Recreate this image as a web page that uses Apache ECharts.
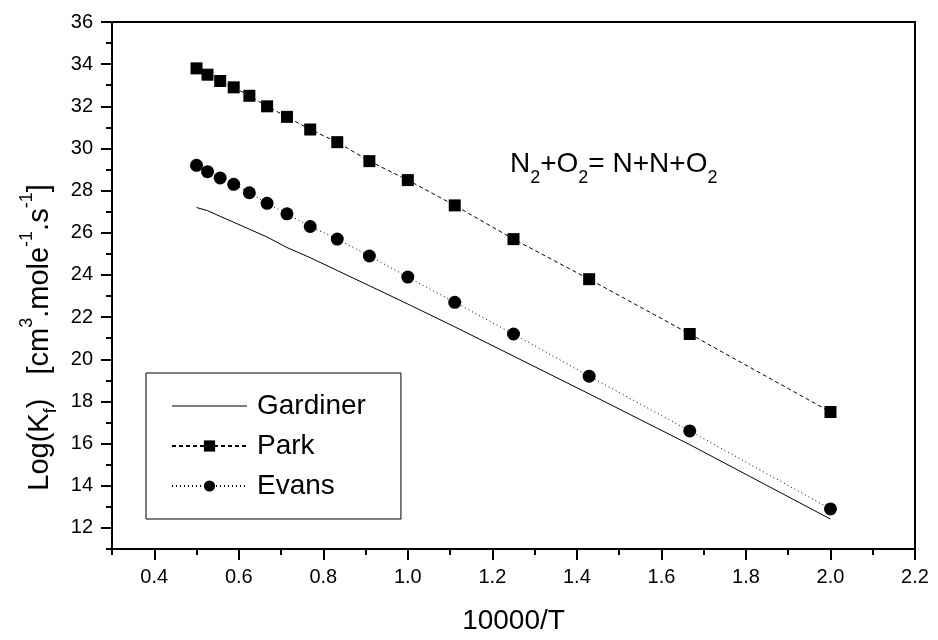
<!DOCTYPE html>
<html><head><meta charset="utf-8">
<script src="https://cdn.jsdelivr.net/npm/echarts@6/dist/echarts.min.js"></script>
<style>html,body{margin:0;padding:0;background:#fff}#c{width:938px;height:640px}</style>
</head><body><div id="c"></div>
<script>
// 10000/T values
const xValues = [0.5, 0.526, 0.556, 0.588, 0.625, 0.667, 0.714, 0.769, 0.833, 0.909, 1.0, 1.111, 1.25, 1.429, 1.667, 2.0];
const gardiner = [27.2, 27.05, 26.78, 26.5, 26.17, 25.8, 25.3, 24.82, 24.21, 23.49, 22.62, 21.54, 20.15, 18.36, 15.95, 12.42];
const park = [33.8, 33.5, 33.2, 32.9, 32.5, 32.0, 31.5, 30.9, 30.3, 29.4, 28.5, 27.3, 25.7, 23.8, 21.2, 17.5];
const evans = [29.2, 28.9, 28.6, 28.3, 27.9, 27.4, 26.9, 26.3, 25.7, 24.9, 23.9, 22.7, 21.2, 19.2, 16.6, 12.9];
// tick positions (labels shown on every other one)
const xTicks = ['0.3','0.4','0.5','0.6','0.7','0.8','0.9','1.0','1.1','1.2','1.3','1.4','1.5','1.6','1.7','1.8','1.9','2.0','2.1','2.2'];
const yTicks = ['11','12','13','14','15','16','17','18','19','20','21','22','23','24','25','26','27','28','29','30','31','32','33','34','35','36'];
const seriesNames = ['Gardiner', 'Park', 'Evans'];

const FONT = 'Liberation Sans, Arial, sans-serif';
const black = '#000';
const major = (i) => i % 2 === 1;

const chart = echarts.init(document.getElementById('c'), null, {renderer: 'canvas'});
const pairs = (ys) => xValues.map((x, i) => [x, ys[i]]);

chart.setOption({
  animation: false,
  backgroundColor: '#fff',
  textStyle: {fontFamily: FONT, color: black},
  grid: {left: 112, right: 23, top: 22, bottom: 87, show: true, borderColor: black, borderWidth: 2, backgroundColor: 'transparent'},
  xAxis: [
    {type: 'value', min: 0.3, max: 2.2, interval: 0.1, position: 'bottom',
     axisLine: {show: true, onZero: false, lineStyle: {color: black, width: 2}},
     axisTick: {show: true, length: 6, lineStyle: {color: black, width: 2}},
     axisLabel: {show: false}, splitLine: {show: false}},
    {type: 'category', data: xTicks, boundaryGap: false, position: 'bottom',
     axisLine: {show: false},
     axisTick: {show: true, interval: major, length: 11, lineStyle: {color: black, width: 2}},
     axisLabel: {interval: major, margin: 18, fontSize: 20, color: black, fontFamily: FONT},
     splitLine: {show: false},
     name: '10000/T', nameLocation: 'middle', nameGap: 58,
     nameTextStyle: {fontSize: 28, color: black, fontFamily: FONT}}
  ],
  yAxis: [
    {type: 'value', min: 11, max: 36, interval: 1, position: 'left',
     axisLine: {show: true, onZero: false, lineStyle: {color: black, width: 2}},
     axisTick: {show: true, length: 6, lineStyle: {color: black, width: 2}},
     axisLabel: {show: false}, splitLine: {show: false}},
    {type: 'category', data: yTicks, boundaryGap: false, position: 'left',
     axisLine: {show: false},
     axisTick: {show: true, interval: major, length: 11, lineStyle: {color: black, width: 2}},
     axisLabel: {interval: major, margin: 19, fontSize: 20, color: black, fontFamily: FONT},
     splitLine: {show: false},
     name: '{t|Log(K}{sub|f}{t|)   [cm}{sup|3}{t|.mole}{sup|-1}{t|.s}{sup|-1}{t|]}',
     nameLocation: 'middle', nameGap: 60, nameRotate: 90,
     nameTextStyle: {
       fontSize: 29, color: black, fontFamily: FONT, padding: [0, 104, 0, 0],
       rich: {
         t: {fontSize: 29, lineHeight: 31, padding: [8, 0, 0, 0], verticalAlign: 'top', color: black, fontFamily: FONT},
         sup: {fontSize: 18, lineHeight: 18, padding: [0, 0, 0, 0], verticalAlign: 'top', color: black, fontFamily: FONT},
         sub: {fontSize: 18, lineHeight: 18, padding: [24, 0, 0, 0], verticalAlign: 'top', color: black, fontFamily: FONT}
       }
     }}
  ],
  legend: {
    orient: 'vertical', left: 146, top: 373,
    data: [{name: seriesNames[0], icon: 'path://M0,0H75V1H0Z'}, seriesNames[1], seriesNames[2]],
    itemWidth: 75, itemHeight: 14, itemGap: 12,
    padding: [19, 35, 19, 25],
    borderColor: black, borderWidth: 1, borderRadius: 0,
    textStyle: {fontSize: 28, color: black, fontFamily: FONT, padding: [0, 0, 0, 5]}
  },
  graphic: [{
    type: 'text', left: 510, top: 150,
    style: {
      text: '{t|N}{s|2}{t|+O}{s|2}{t|= N+N+O}{s|2}',
      fill: black,
      rich: {
        t: {fontSize: 28, lineHeight: 30, verticalAlign: 'top', fontFamily: FONT, fill: black},
        s: {fontSize: 18, lineHeight: 18, padding: [19, 0, 0, 0], verticalAlign: 'top', fontFamily: FONT, fill: black}
      }
    }
  }],
  series: [
    {name: seriesNames[0], type: 'line', xAxisIndex: 0, yAxisIndex: 0, data: pairs(gardiner),
     symbol: 'none', lineStyle: {color: black, width: 1}, itemStyle: {color: black}},
    {name: seriesNames[1], type: 'line', xAxisIndex: 0, yAxisIndex: 0, data: pairs(park),
     symbol: 'rect', symbolSize: 12, lineStyle: {color: black, width: 1, type: [4, 3]}, itemStyle: {color: black}},
    {name: seriesNames[2], type: 'line', xAxisIndex: 0, yAxisIndex: 0, data: pairs(evans),
     symbol: 'circle', symbolSize: 13, lineStyle: {color: black, width: 1, type: [1, 3]}, itemStyle: {color: black}}
  ]
});
</script></body></html>
